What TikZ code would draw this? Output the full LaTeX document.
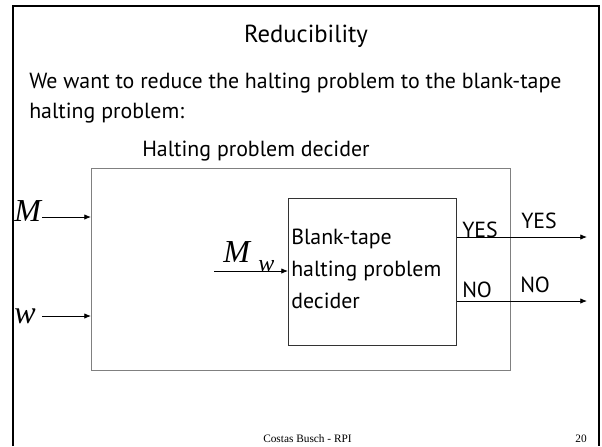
\documentclass[tikz,border=0pt]{standalone}
\usepackage{fontspec}
\setmainfont{PT Sans}
\newfontfamily\timesfont{Liberation Serif}
\usetikzlibrary{arrows.meta}
\begin{document}
\begin{tikzpicture}[x=0.75pt,y=-0.75pt,
  slidetext/.style={inner sep=0pt,anchor=base west,font=\fontsize{16.4}{19}\selectfont},
  boxtext/.style={inner sep=0pt,anchor=base west,font=\fontsize{16.4}{19}\selectfont},
  mathlabel/.style={inner sep=0pt,anchor=base west,font=\timesfont\itshape\fontsize{24}{28}\selectfont},
  flow/.style={-{Latex[length=5pt,width=4pt]},line width=0.6pt,black},
  frameline/.style={line width=2.2pt,black}]
  \useasboundingbox (0,0) rectangle (602,446);
  % slide frame (open at the bottom)
  \draw[frameline] (13,446) -- (13,6) -- (599,6) -- (599,446);
  % title and text
  \node[inner sep=0pt,anchor=base,font=\fontsize{18.5}{22}\selectfont] (title) at (306,42) {Reducibility};
  \node[slidetext] (line1) at (29,88) {We want to reduce the halting problem to the blank-tape};
  \node[slidetext] (line2) at (29,118) {halting problem:};
  % boxes
  \node[draw=black!50,line width=1.1pt,minimum width=419*0.75pt,minimum height=202*0.75pt,inner sep=0pt,anchor=north west] (outer) at (91,168) {};
  \node[draw=black!80,line width=0.6pt,minimum width=168*0.75pt,minimum height=147*0.75pt,inner sep=0pt,anchor=north west] (inner) at (288,198) {};
  \node[slidetext] (outerlabel) at (142,156) {Halting problem decider};
  \node[boxtext] (b1) at (291,244) {Blank-tape};
  \node[boxtext] (b2) at (291,276) {halting problem};
  \node[boxtext] (b3) at (291,308) {decider};
  % inputs
  \node[mathlabel] (M) at (14,221) {M};
  \node[mathlabel] (w) at (14,323) {w};
  \coordinate (Min) at (42,217);
  \coordinate (win) at (42,316);
  \draw[flow] (Min) -- (Min -| outer.west);
  \draw[flow] (win) -- (win -| outer.west);
  \node[mathlabel] (Mw) at (223,262) {M};
  \node[inner sep=0pt,anchor=base west,font=\timesfont\itshape\fontsize{18}{20}\selectfont] (Mwsub) at (258,271) {w};
  \coordinate (Mwin) at (214,271);
  \draw[flow] (Mwin) -- (Mwin -| inner.west);
  % outputs
  \coordinate (yesout) at (587,237);
  \coordinate (noout) at (587,301);
  \draw[flow] (yesout -| inner.east) -- (yesout);
  \draw[flow] (noout -| inner.east) -- (noout);
  \node[slidetext] (yes1) at (462,237) {YES};
  \node[slidetext] (no1) at (462,297) {NO};
  \node[slidetext] (yes2) at (521,228) {YES};
  \node[slidetext] (no2) at (520,292) {NO};
  % footer
  \node[inner sep=0pt,anchor=base west,font=\timesfont\fontsize{8.5}{10}\selectfont] (footer) at (263,442) {Costas Busch - RPI};
  \node[inner sep=0pt,anchor=base east,font=\timesfont\fontsize{8.5}{10}\selectfont] (page) at (587,442) {20};
\end{tikzpicture}
\end{document}
